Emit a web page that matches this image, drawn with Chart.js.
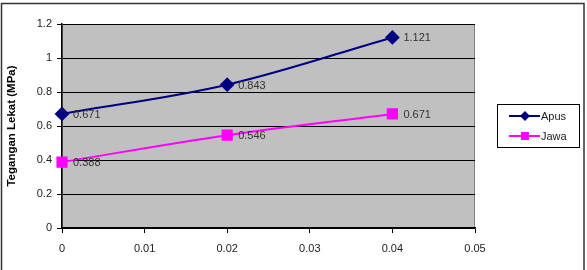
<!DOCTYPE html>
<html>
<head>
<meta charset="utf-8">
<script src="https://cdn.jsdelivr.net/npm/chart.js@4/dist/chart.umd.min.js"></script>
<style>
  html, body { margin: 0; padding: 0; background: #fff; }
  #wrap { width: 587px; height: 270px; }
</style>
</head>
<body>
<div id="wrap"><canvas id="chart" width="587" height="270"></canvas></div>
<script>
// ---------- data ----------
const strain = [0, 0.02, 0.04];
const apus = [0.671, 0.843, 1.121];
const jawa = [0.388, 0.546, 0.671];
const seriesNames = ["Apus", "Jawa"];
const yTitle = "Tegangan Lekat (MPa)";

const navy = "#000080";
const magenta = "#ff00ff";
const fontArial = "Arial, 'Liberation Sans', sans-serif";

function points(ys) {
    return strain.map((x, i) => ({ x: x, y: ys[i] }));
}

// ---------- plot background + outer frame ----------
const framePlugin = {
    id: "frame",
    beforeDraw(chart) {
        const ctx = chart.ctx;
        const a = chart.chartArea;
        ctx.save();
        ctx.fillStyle = "#fff";
        ctx.fillRect(0, 0, chart.width, chart.height);
        ctx.strokeStyle = "#333";
        ctx.lineWidth = 1.5;
        ctx.strokeRect(1.5, 3.5, 582.5, 280);
        ctx.fillStyle = "#c0c0c0";
        ctx.fillRect(a.left, a.top, a.right - a.left, a.bottom - a.top);
        ctx.strokeStyle = "#808080";
        ctx.lineWidth = 1;
        ctx.strokeRect(a.left + 0.5, a.top + 0.5, a.right - a.left - 1, a.bottom - a.top);
        ctx.restore();
    }
};

// ---------- value labels next to points ----------
const valueLabels = {
    id: "valueLabels",
    afterDatasetsDraw(chart) {
        const ctx = chart.ctx;
        ctx.save();
        ctx.font = "11px " + fontArial;
        ctx.fillStyle = "#333";
        ctx.textAlign = "left";
        ctx.textBaseline = "middle";
        chart.data.datasets.forEach((ds, i) => {
            chart.getDatasetMeta(i).data.forEach((pt, j) => {
                ctx.fillText(ds.data[j].y.toFixed(3), pt.x + 11, pt.y + 1);
            });
        });
        ctx.restore();
    }
};

// ---------- boxed legend on the right ----------
const boxLegend = {
    id: "boxLegend",
    afterDraw(chart) {
        const ctx = chart.ctx;
        const bx = 497.5, by = 104.5, bw = 82, bh = 43;
        ctx.save();
        ctx.fillStyle = "#fff";
        ctx.fillRect(bx, by, bw, bh);
        ctx.strokeStyle = "#000";
        ctx.lineWidth = 1;
        ctx.strokeRect(bx, by, bw, bh);
        chart.data.datasets.forEach((ds, i) => {
            const y = 116 + i * 20;
            ctx.strokeStyle = ds.borderColor;
            ctx.lineWidth = 2;
            ctx.beginPath();
            ctx.moveTo(509, y);
            ctx.lineTo(540, y);
            ctx.stroke();
            ctx.fillStyle = ds.borderColor;
            if (ds.pointStyle === "rect") {
                ctx.fillRect(521, y - 4, 8, 8);
            } else {
                ctx.beginPath();
                ctx.moveTo(525, y - 5);
                ctx.lineTo(530, y);
                ctx.lineTo(525, y + 5);
                ctx.lineTo(520, y);
                ctx.closePath();
                ctx.fill();
            }
            ctx.fillStyle = "#222";
            ctx.font = "11px " + fontArial;
            ctx.textBaseline = "middle";
            ctx.fillText(ds.label, 541, y + 1);
        });
        ctx.restore();
    }
};

function fmt(v) { return String(parseFloat(Number(v).toFixed(3))); }

new Chart(document.getElementById("chart"), {
    type: "line",
    data: {
        datasets: [
            {
                label: seriesNames[0],
                data: points(apus),
                borderColor: navy,
                backgroundColor: navy,
                borderWidth: 2,
                pointStyle: "rectRot",
                pointRadius: 6,
                pointHoverRadius: 6,
                tension: 0.35,
                clip: false
            },
            {
                label: seriesNames[1],
                data: points(jawa),
                borderColor: magenta,
                backgroundColor: magenta,
                borderWidth: 2,
                pointStyle: "rect",
                pointRadius: 6.5,
                pointHoverRadius: 6.5,
                tension: 0.35,
                clip: false
            }
        ]
    },
    options: {
        responsive: false,
        animation: false,
        events: [],
        layout: { padding: { left: 0, top: 24, right: 112, bottom: 0 } },
        plugins: {
            legend: { display: false },
            tooltip: { enabled: false }
        },
        scales: {
            x: {
                type: "linear",
                min: 0,
                max: 0.05,
                afterFit: (s) => { s.height = 42; },
                grid: {
                    drawOnChartArea: false,
                    drawTicks: true,
                    tickLength: 5,
                    color: "#000"
                },
                border: { color: "#000", width: 1.5 },
                ticks: {
                    stepSize: 0.01,
                    padding: 9,
                    color: "#222",
                    font: { size: 11, family: fontArial },
                    callback: (v) => fmt(v)
                }
            },
            y: {
                min: 0,
                max: 1.2,
                afterFit: (s) => { s.width = 62; },
                grid: {
                    color: "#000",
                    lineWidth: 1,
                    drawTicks: true,
                    tickLength: 5
                },
                border: { color: "#000", width: 1.5 },
                ticks: {
                    stepSize: 0.2,
                    padding: 5,
                    color: "#222",
                    font: { size: 11, family: fontArial },
                    callback: (v) => fmt(v)
                },
                title: {
                    display: true,
                    text: yTitle,
                    color: "#000",
                    font: { size: 11.5, weight: "bold", family: fontArial },
                    padding: { top: 5, bottom: 0 }
                }
            }
        }
    },
    plugins: [framePlugin, valueLabels, boxLegend]
});
</script>
</body>
</html>
